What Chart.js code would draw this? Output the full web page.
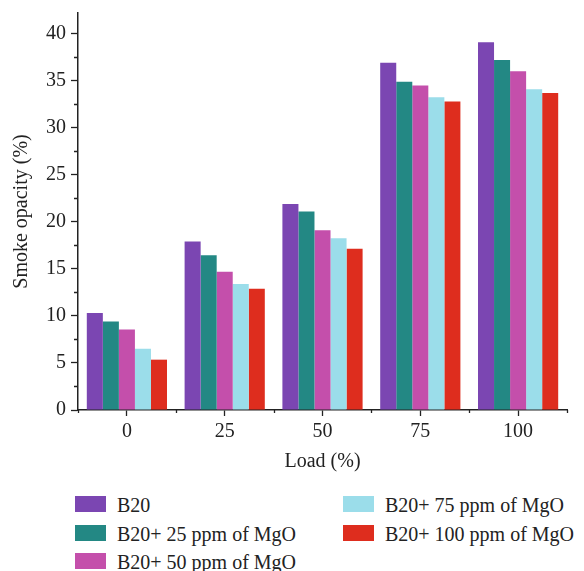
<!DOCTYPE html>
<html>
<head>
<meta charset="utf-8">
<script src="https://cdn.jsdelivr.net/npm/chart.js@4.4.1/dist/chart.umd.min.js"></script>
<style>
    body { margin: 0; background: #fff; }
    #wrap { position: relative; width: 584px; height: 571px; }
    #chart { position: absolute; left: 0; top: 0; }
    .legend-item {
        position: absolute;
        font-family: 'Liberation Serif', serif;
        font-size: 20px;
        color: #222;
        white-space: nowrap;
        line-height: 20px;
    }
    .legend-item .box {
        position: absolute;
        left: 0; top: 0;
        width: 31px; height: 16px;
    }
    .legend-item .txt { position: absolute; left: 42px; top: -1px; }
</style>
</head>
<body>
<div id="wrap">
    <canvas id="chart" width="584" height="480"></canvas>
    <div id="legend"></div>
</div>
<script>
// Smoke opacity vs load
const loads = ['0', '25', '50', '75', '100'];
const seriesNames = ['B20', 'B20+ 25 ppm of MgO', 'B20+ 50 ppm of MgO', 'B20+ 75 ppm of MgO', 'B20+ 100 ppm of MgO'];
const seriesColors = ['#7B46B2', '#238884', '#C44FAB', '#9BDDEA', '#DE2D1E'];

const b20 = [10.3, 17.9, 21.9, 36.9, 39.1];
const mgo25 = [9.4, 16.45, 21.1, 34.9, 37.2];
const mgo50 = [8.55, 14.7, 19.1, 34.5, 36.0];
const mgo75 = [6.5, 13.4, 18.25, 33.25, 34.1];
const mgo100 = [5.35, 12.9, 17.15, 32.8, 33.7];
const seriesValues = [b20, mgo25, mgo50, mgo75, mgo100];

const yTicks = [0, 5, 10, 15, 20, 25, 30, 35, 40];
const yMinorTicks = [2.5, 7.5, 12.5, 17.5, 22.5, 27.5, 32.5, 37.5];

const axisColor = '#222';
const serif = "'Liberation Serif', serif";

// minor ticks on both axes (short marks between the labelled ones)
const minorTicks = {
    id: 'minorTicks',
    afterDraw(chart) {
        const ctx = chart.ctx;
        const x = chart.scales.x, y = chart.scales.y;
        ctx.save();
        ctx.strokeStyle = axisColor;
        ctx.lineWidth = 1.3;
        ctx.beginPath();
        yMinorTicks.forEach(v => {
            const py = Math.round(y.getPixelForValue(v)) + 0.5;
            ctx.moveTo(x.left - 4, py);
            ctx.lineTo(x.left, py);
        });
        for (let i = -0.5; i < loads.length; i += 1) {
            const px = Math.round(x.getPixelForValue(i)) + 0.5;
            ctx.moveTo(px, y.bottom);
            ctx.lineTo(px, y.bottom + 3);
        }
        ctx.stroke();
        ctx.restore();
    }
};

const chart = new Chart(document.getElementById('chart'), {
    type: 'bar',
    data: {
        labels: loads,
        datasets: seriesNames.map((name, i) => ({
            label: name,
            data: seriesValues[i],
            backgroundColor: seriesColors[i],
            borderWidth: 0,
            categoryPercentage: 0.82,
            barPercentage: 1.0
        }))
    },
    options: {
        responsive: false,
        animation: false,
        layout: { padding: { top: 13, right: 17, left: 0, bottom: 0 } },
        plugins: {
            legend: { display: false },
            tooltip: { enabled: false }
        },
        scales: {
            x: {
                afterFit: s => { s.height = 70; s.paddingLeft = 0; s.paddingRight = 0; },
                grid: {
                    offset: false,
                    drawOnChartArea: false,
                    tickLength: 6,
                    tickColor: axisColor,
                    tickWidth: 1.3
                },
                border: { color: axisColor, width: 1.5 },
                ticks: {
                    color: '#222',
                    font: { family: serif, size: 20 },
                    padding: 4,
                    maxRotation: 0
                },
                title: {
                    display: true,
                    text: 'Load (%)',
                    color: '#222',
                    font: { family: serif, size: 20 },
                    padding: { top: 0, bottom: 6 }
                }
            },
            y: {
                min: 0,
                max: 42.2,
                afterFit: s => { s.width = 78; s.paddingTop = 0; s.paddingBottom = 0; },
                afterBuildTicks: s => { s.ticks = yTicks.map(v => ({ value: v })); },
                grid: {
                    drawOnChartArea: false,
                    tickLength: 7,
                    tickColor: axisColor,
                    tickWidth: 1.3
                },
                border: { color: axisColor, width: 1.5 },
                ticks: {
                    color: '#222',
                    font: { family: serif, size: 20 },
                    padding: 5
                },
                title: {
                    display: true,
                    text: 'Smoke opacity (%)',
                    color: '#222',
                    font: { family: serif, size: 20 },
                    padding: { top: 10, bottom: 0 }
                }
            }
        }
    },
    plugins: [minorTicks]
});

// HTML legend: two columns, first three entries on the left
const legendEl = document.getElementById('legend');
chart.data.datasets.forEach((ds, i) => {
    const col = i < 3 ? 0 : 1;
    const row = i < 3 ? i : i - 3;
    const item = document.createElement('div');
    item.className = 'legend-item';
    item.style.left = (col === 0 ? 75 : 343) + 'px';
    item.style.top = (496 + row * 28.5) + 'px';
    item.innerHTML = `<span class="box" style="background:${ds.backgroundColor}"></span><span class="txt">${ds.label}</span>`;
    legendEl.appendChild(item);
});
</script>
</body>
</html>
